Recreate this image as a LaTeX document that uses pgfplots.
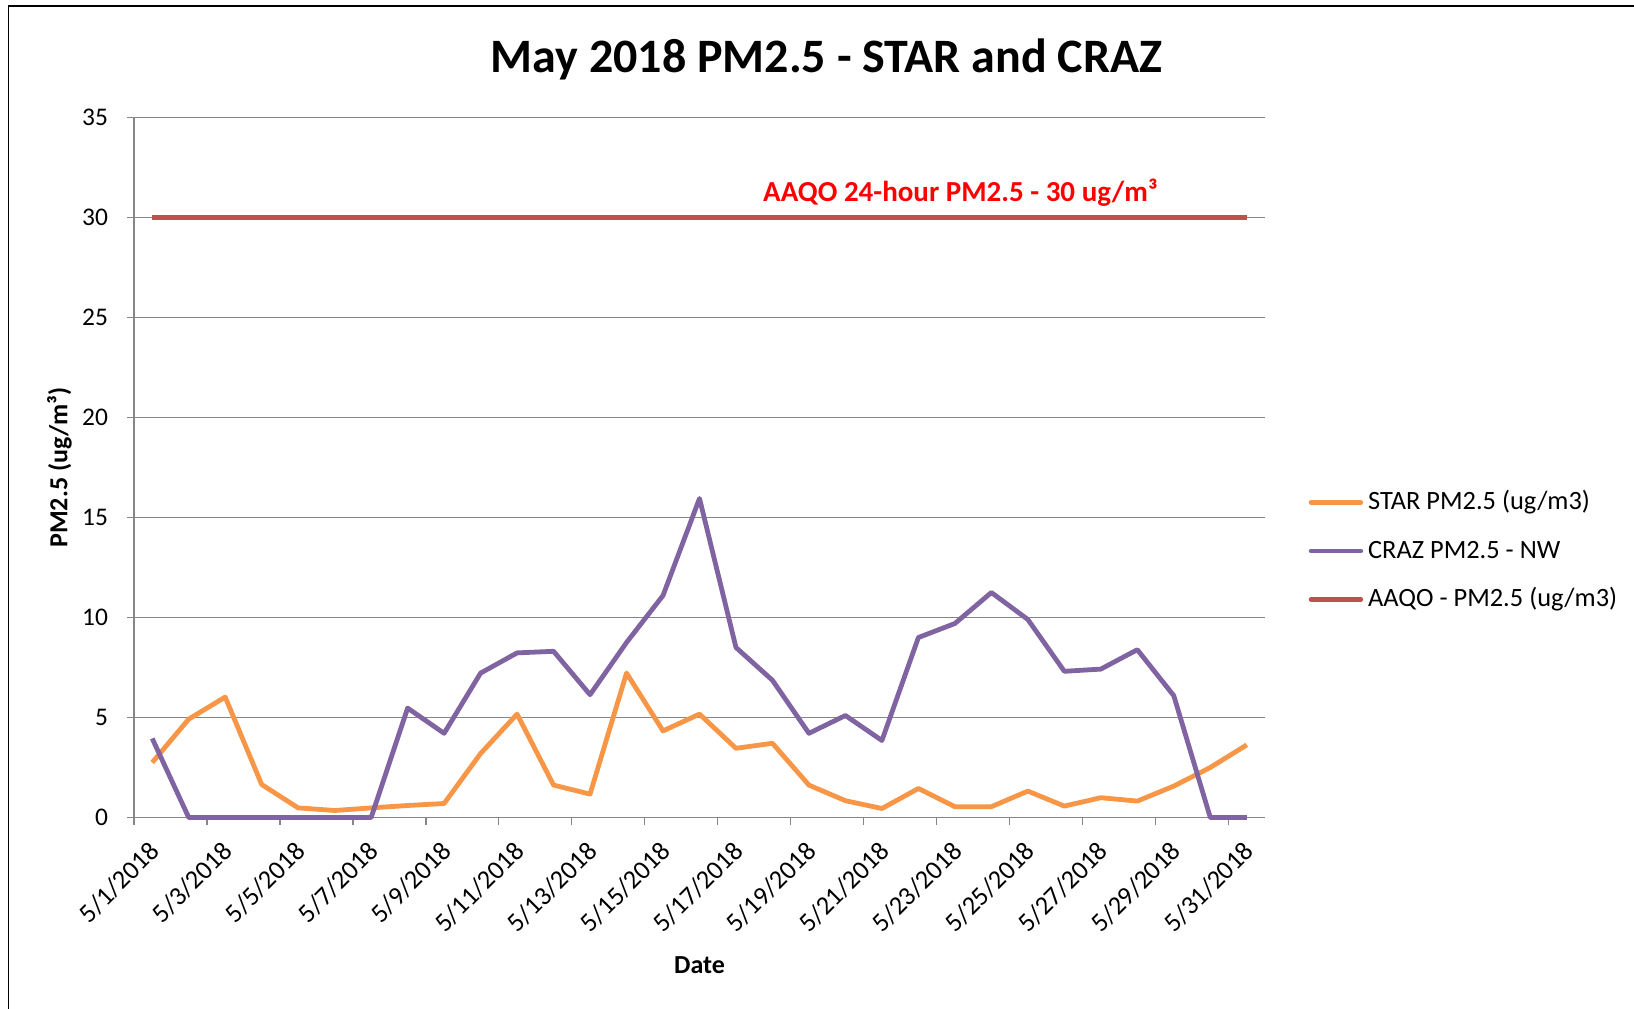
\documentclass[border=0pt]{standalone}
\usepackage{pgfplots}
\pgfplotsset{compat=1.18}
\usepackage{pgfplotstable}
\usepackage{fontspec}
\setmainfont{Carlito}
\definecolor{staror}{HTML}{F79646}
\definecolor{crazpu}{HTML}{8064A2}
\definecolor{aaqore}{HTML}{C0504D}
\definecolor{gridg}{HTML}{868686}

\pgfplotstableread{
x star craz aaqo
0.5 2.75 3.95 30
1.5 4.92 0 30
2.5 6.02 0 30
3.5 1.65 0 30
4.5 0.48 0 30
5.5 0.35 0 30
6.5 0.48 0 30
7.5 0.6 5.47 30
8.5 0.7 4.21 30
9.5 3.2 7.22 30
10.5 5.17 8.23 30
11.5 1.62 8.31 30
12.5 1.17 6.14 30
13.5 7.22 8.75 30
14.5 4.33 11.1 30
15.5 5.17 15.95 30
16.5 3.46 8.5 30
17.5 3.71 6.86 30
18.5 1.62 4.21 30
19.5 0.84 5.1 30
20.5 0.45 3.85 30
21.5 1.45 9.0 30
22.5 0.54 9.7 30
23.5 0.54 11.25 30
24.5 1.32 9.9 30
25.5 0.57 7.31 30
26.5 0.99 7.42 30
27.5 0.82 8.39 30
28.5 1.57 6.09 30
29.5 2.5 0 30
30.5 3.63 0 30
}\datatable

\begin{document}
\begin{tikzpicture}
\path[use as bounding box] (0,0) rectangle (817pt,504pt);
\draw[line width=0.6pt] (4.15pt,-1pt) -- (4.15pt,501pt) -- (818pt,501pt);

\node[font=\bfseries\fontsize{24}{28}\selectfont, anchor=base] at (413.2pt,467.75pt) {May 2018 PM2.5 - STAR and CRAZ};
\node[rotate=90, anchor=base, inner sep=0pt, font=\bfseries\fontsize{13}{15}\selectfont] at (33.65pt,270.2pt) {PM2.5 (ug/m³)};
\node[anchor=base, inner sep=0pt, font=\bfseries\fontsize{13}{15}\selectfont] at (349.75pt,17.35pt) {Date};

\begin{axis}[
  at={(67pt,95.25pt)}, anchor=south west,
  scale only axis, width=565.5pt, height=350pt,
  xmin=0, xmax=31, ymin=0, ymax=35,
  clip=false,
  axis x line*=bottom, axis y line*=left,
  axis line style={draw=gridg, line width=0.65pt, -},
  ymajorgrids, grid style={draw=gridg, line width=0.65pt},
  tick align=outside,
  major tick length=3.7pt,
  tick style={draw=gridg, line width=0.65pt},
  ytick={0,5,...,35},
  xtick={0,2,...,30},
  xticklabels={},
  extra x ticks={0.38,2.38,...,30.38},
  extra x tick labels={5/1/2018,5/3/2018,5/5/2018,5/7/2018,5/9/2018,5/11/2018,5/13/2018,5/15/2018,5/17/2018,5/19/2018,5/21/2018,5/23/2018,5/25/2018,5/27/2018,5/29/2018,5/31/2018},
  extra x tick style={major tick length=0pt, tick style={draw=none}},
  xticklabel style={rotate=45, anchor=north east, inner sep=0pt, font=\fontsize{13.2}{15}\selectfont},
  xticklabel shift=10.9pt,
  yticklabel style={anchor=east, inner sep=0pt, font=\fontsize{12.7}{15}\selectfont},
  yticklabel shift=9.15pt,
  /pgf/number format/assume math mode=true,
  legend cell align=left,
  legend style={draw=none, fill=none, inner sep=0pt, at={(1.0383,0.3807)}, anchor=west,
    column sep=2.5pt, row sep=11.25pt,
    nodes={inner sep=0pt, text height=10pt, text depth=3pt},
    font=\fontsize{13.2}{15}\selectfont},
  legend image code/.code={\draw[#1, line cap=round, line width=2.4pt] (1.2pt,0pt) -- (26pt,0pt);},
]
\addplot[staror, line width=2.4pt, line join=round] table[x=x, y=star] {\datatable};
\addlegendentry{STAR PM2.5 (ug/m3)}
\addplot[crazpu, line width=2.4pt, line join=round] table[x=x, y=craz] {\datatable};
\addlegendentry{CRAZ PM2.5 - NW}
\addplot[aaqore, line width=2.4pt] table[x=x, y=aaqo] {\datatable};
\addlegendentry{AAQO - PM2.5 (ug/m3)}
\node[anchor=base east, inner sep=0pt, text=red, font=\bfseries\fontsize{14.5}{17}\selectfont] at (axis cs:28.07,30.8) {AAQO 24-hour PM2.5 - 30 ug/m³};
\end{axis}
\end{tikzpicture}
\end{document}
